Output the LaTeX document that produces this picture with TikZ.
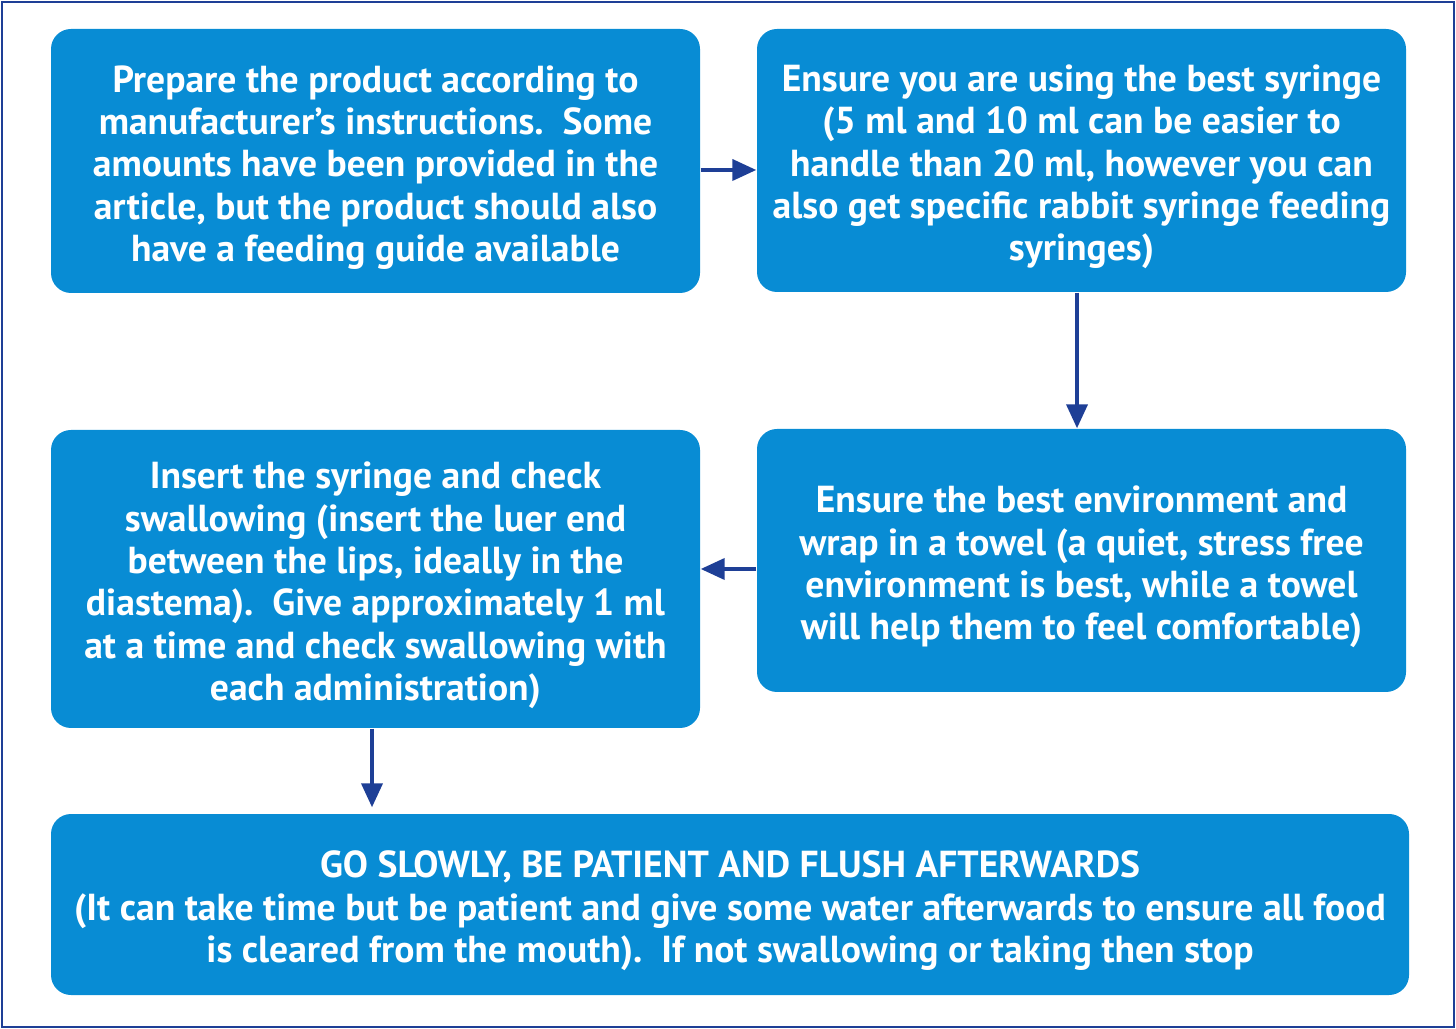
\documentclass[tikz,border=0pt]{standalone}
\usepackage{fontspec}
\setmainfont{PT Sans}
\usetikzlibrary{arrows.meta}
\definecolor{boxblue}{HTML}{088CD4}
\definecolor{arrowblue}{HTML}{1E3F96}
\newcommand{\topgap}{\rule{0pt}{11.3pt}}
\begin{document}
\begin{tikzpicture}[
    stepbox/.style={fill=boxblue, draw=none, rounded corners=0.2cm, text=white,
      font=\bfseries\fontsize{10.7}{12.05}\selectfont, align=center, inner sep=0pt},
    flow/.style={-{Triangle[length=2.4mm, width=2.1mm]}, line width=1.1pt, arrowblue}
  ]
  \useasboundingbox (0,0) rectangle (14.56,-10.29);
  \draw [arrowblue, line width=0.45pt] (0.02,-0.02) rectangle (14.54,-10.27);

  \node [stepbox, minimum width=6.49cm, minimum height=2.64cm] (prep) at (3.755,-1.61)
    {\topgap Prepare the product according to\\ manufacturer’s instructions.\ \ Some\\ amounts have been provided in the\\ article, but the product should also\\ have a feeding guide available};
  \node [stepbox, minimum width=6.49cm, minimum height=2.63cm] (syringe) at (10.815,-1.605)
    {\topgap Ensure you are using the best syringe\\ (5 ml and 10 ml can be easier to\\ handle than 20 ml, however you can\\ also get specific rabbit syringe feeding\\ syringes)};
  \node [stepbox, minimum width=6.49cm, minimum height=2.63cm] (environ) at (10.815,-5.605)
    {\topgap Ensure the best environment and\\ wrap in a towel (a quiet, stress free\\ environment is best, while a towel\\ will help them to feel comfortable)};
  \node [stepbox, minimum width=6.49cm, minimum height=2.98cm] (insert) at (3.755,-5.79)
    {\topgap Insert the syringe and check\\ swallowing (insert the luer end\\ between the lips, ideally in the\\ diastema).\ \ Give approximately 1 ml\\ at a time and check swallowing with\\ each administration)};
  \node [stepbox, minimum width=13.58cm, minimum height=1.81cm] (slowly) at (7.30,-9.045)
    {\topgap GO SLOWLY, BE PATIENT AND FLUSH AFTERWARDS\\ (It can take time but be patient and give some water afterwards to ensure all food\\ is cleared from the mouth).\ \ If not swallowing or taking then stop};

  \draw [flow] (prep.east |- 0,-1.70) -- (syringe.west |- 0,-1.70);
  \draw [flow] (syringe.south -| 10.77,0) -- (environ.north -| 10.77,0);
  \draw [flow] (environ.west |- 0,-5.69) -- (insert.east |- 0,-5.69);
  \draw [flow] (insert.south -| 3.72,0) -- ([yshift=0.06cm]slowly.north -| 3.72,0);
\end{tikzpicture}
\end{document}
